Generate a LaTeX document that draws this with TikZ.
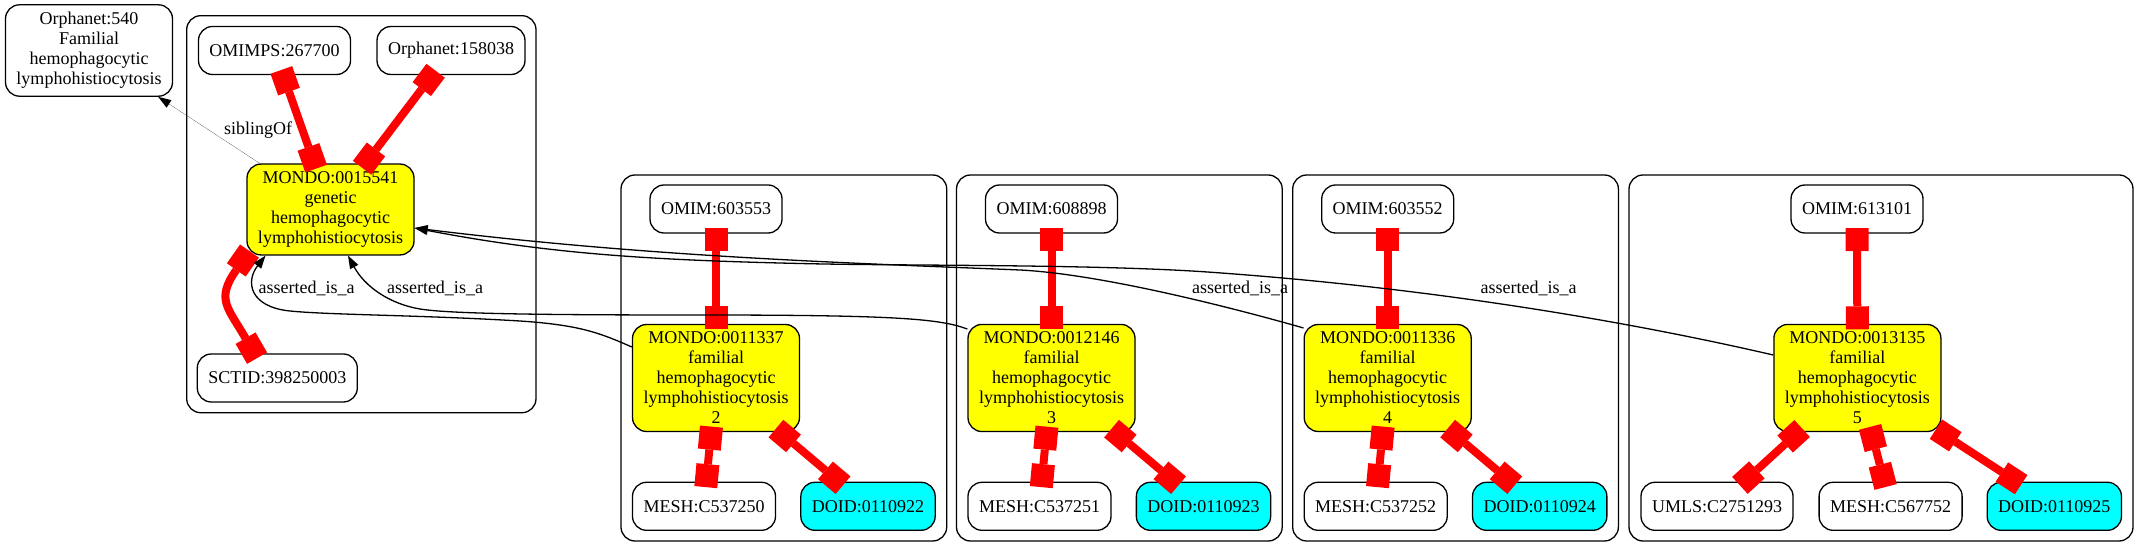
\documentclass[tikz,border=0pt]{standalone}
\usepackage{fontspec}
\setmainfont{Liberation Serif}
\usetikzlibrary{arrows.meta}
\definecolor{monyellow}{RGB}{255,255,0}
\definecolor{doidcyan}{RGB}{0,255,255}
\definecolor{xrefred}{RGB}{255,0,0}
\tikzstyle{term}=[draw,line width=1.3pt,rounded corners=14pt,inner xsep=11pt,inner ysep=7.5pt,minimum height=48pt,align=center]
\tikzstyle{mondo}=[term,fill=monyellow]
\tikzstyle{doid}=[term,fill=doidcyan]
\tikzstyle{cluster}=[draw,line width=1.3pt,rounded corners=14pt]
\tikzstyle{xref}=[xrefred,line width=8pt,{Square[length=23pt,width=23pt,line width=0pt]}-{Square[length=23pt,width=23pt,line width=0pt]},shorten <=-5.5pt,shorten >=-5.5pt]
\tikzstyle{isa}=[line width=1.3pt,-{Triangle[length=13pt,width=9pt]}]
\tikzstyle{sib}=[line width=0.1pt,-{Triangle[length=13pt,width=9pt,line width=0pt]}]
\begin{document}
\begin{tikzpicture}[x=1pt,y=1pt,font=\fontsize{18}{20}\selectfont]
		\useasboundingbox (0,0) rectangle (2149,557);

		\draw[cluster] (186.7,144.3) rectangle (536,541.3);
		\draw[cluster] (1629,16) rectangle (2133,382);

		\node[term] (orpha) at (89,506.5) {Orphanet:540\\Familial\\hemophagocytic\\lymphohistiocytosis};
		\node[term] (omimps) at (274.5,506.5) {OMIMPS:267700};
		\node[term] (orphb) at (451,506.5) {Orphanet:158038};
		\node[mondo] (m1) at (330.5,347.5) {MONDO:0015541\\genetic\\hemophagocytic\\lymphohistiocytosis};
		\node[term] (sct) at (277.3,179) {SCTID:398250003};

		\foreach \i / \x / \mondo / \omim / \mesh / \doid in {2/716/0011337/603553/C537250/0110922,3/1051.5/0012146/608898/C537251/0110923,4/1387.7/0011336/603552/C537252/0110924} {
			\draw[cluster] (\x-95,16) rectangle (\x+230.7,382);
			\node[term] (omim\i) at (\x,348) {OMIM:\omim};
			\node[mondo] (m\i) at (\x,179) {MONDO:\mondo\\familial\\hemophagocytic\\lymphohistiocytosis\\\i};
			\node[term] (mesh\i) at (\x-12,50.7) {MESH:\mesh};
			\node[doid] (doid\i) at (\x+152,50.7) {DOID:\doid};
			\draw[xref] (omim\i) -- (m\i);
			\draw[xref] (m\i) -- (mesh\i);
			\draw[xref] (m\i) -- (doid\i);
		}

		\node[term] (omim5) at (1857,348) {OMIM:613101};
		\node[mondo] (m5) at (1857.4,179) {MONDO:0013135\\familial\\hemophagocytic\\lymphohistiocytosis\\5};
		\node[term] (umls5) at (1717,50.7) {UMLS:C2751293};
		\node[term] (mesh5) at (1890.6,50.7) {MESH:C567752};
		\node[doid] (doid5) at (2054.3,50.7) {DOID:0110925};

		\draw[xref] (omimps) -- (m1);
		\draw[xref] (orphb) -- (m1);
		\draw[xref] (m1.south west) to[out=235,in=120,looseness=1.4] ([xshift=-23pt]sct.north);
		\draw[xref] (omim5) -- (m5);
		\foreach \t in {umls5,mesh5,doid5} { \draw[xref] (m5) -- (\t);}

		\draw[sib] ([xshift=13.5pt]m1.north west) -- ([xshift=-15pt]orpha.south east);
		\node (labsib) at (258,427) {siblingOf};

		\draw[isa] ([yshift=31pt]m2.west) .. controls (600,224) and (580,232) .. (520,236) .. controls (420,242) and (330,242) .. (290,246) .. controls (250,250) and (245,275) .. ([xshift=-65pt]m1.south);
		\draw[isa] ([yshift=49pt]m3.west) .. controls (940,238) and (900,242) .. (700,242) .. controls (550,242) and (450,243) .. (420,248) .. controls (390,253) and (365,270) .. ([xshift=17.5pt]m1.south);
		\draw[isa] ([yshift=50pt]m4.west) .. controls (1230,250) and (1100,283) .. (1020,287) .. controls (850,294) and (650,300) .. ([yshift=-18.5pt]m1.east);
		\draw[isa] ([yshift=23pt]m5.west) .. controls (1600,242) and (1400,272) .. (1200,285.5) .. controls (1080,293) and (900,291) .. (800,293.5) .. controls (650,297) and (550,303) .. ([yshift=-18.5pt]m1.east);

		\node (lab2) at (306.7,268.7) {asserted\_is\_a};
		\node (lab3) at (435,268.7) {asserted\_is\_a};
		\node (lab4) at (1240,268.7) {asserted\_is\_a};
		\node (lab5) at (1528.7,268.7) {asserted\_is\_a};
	\end{tikzpicture}
\end{document}
